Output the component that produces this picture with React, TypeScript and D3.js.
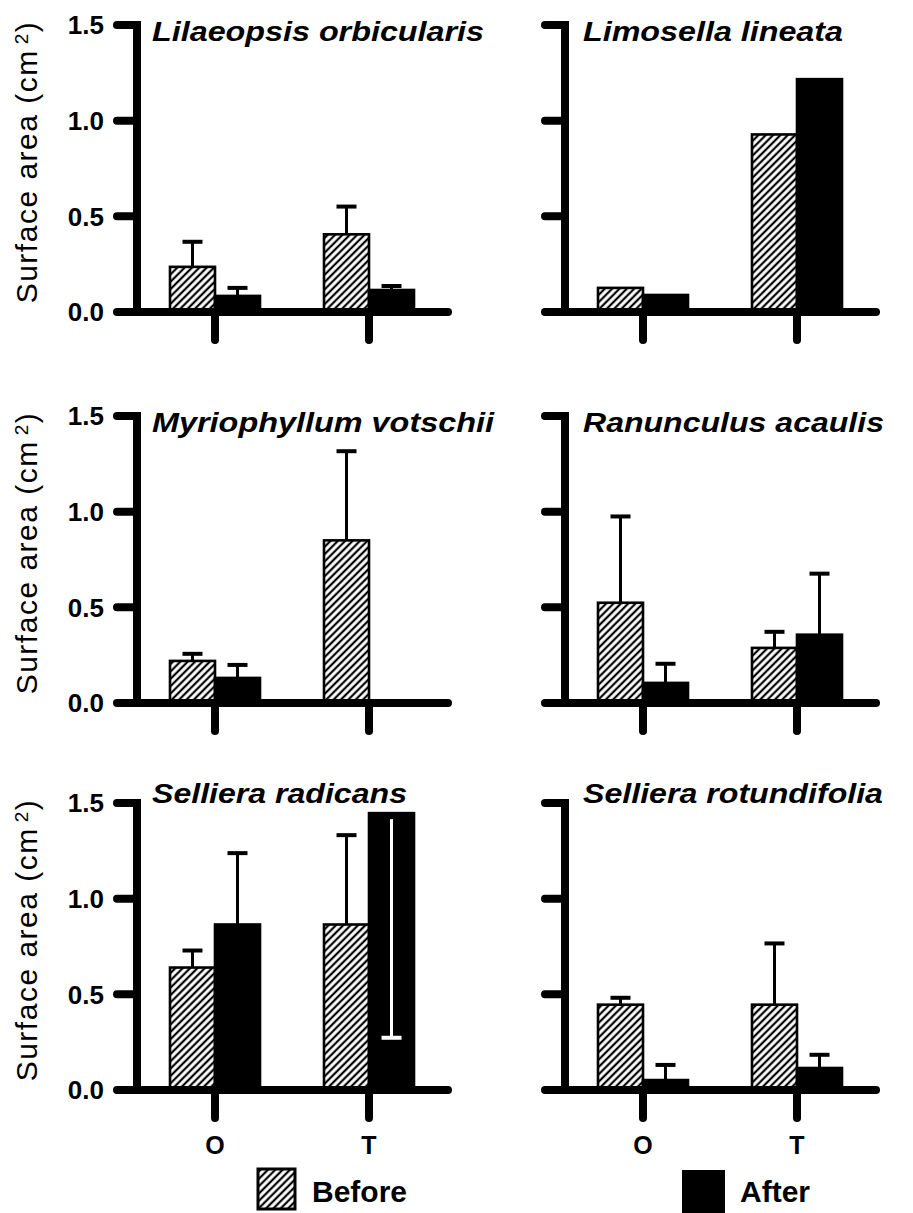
import React from "react";
import * as d3 from "d3";

// Leaf surface area (cm²) per species, before and after, at sites O and T
const species = [
  "Lilaeopsis orbicularis",
  "Limosella lineata",
  "Myriophyllum votschii",
  "Ranunculus acaulis",
  "Selliera radicans",
  "Selliera rotundifolia",
];
const sites = ["O", "T"];
const beforeMean = [
  [0.236, 0.406],
  [0.126, 0.928],
  [0.22, 0.85],
  [0.524, 0.288],
  [0.64, 0.865],
  [0.446, 0.446],
];
const beforeErr = [
  [0.131, 0.145],
  [0, 0],
  [0.037, 0.466],
  [0.451, 0.084],
  [0.089, 0.467],
  [0.036, 0.32],
];
const afterMean = [
  [0.084, 0.115],
  [0.089, 1.217],
  [0.131, 0],
  [0.105, 0.357],
  [0.865, 1.447],
  [0.052, 0.115],
];
const afterErr = [
  [0.042, 0.021],
  [0, 0],
  [0.068, 0],
  [0.1, 0.319],
  [0.373, 1.174],
  [0.079, 0.069],
];
const yTicks = [0, 0.5, 1.0, 1.5];
const titleWidths = [332, 260, 342, 301, 255, 300];

const W = 913;
const H = 1213;
const FONT = "'Liberation Sans', Arial, Helvetica, sans-serif";
const colX = [137, 565];
const rowY0 = [312, 703, 1090];
const PLOT_H = 287;
const AXIS_LEN = 311;
const BAR_W = 45;
const YMAX = 1.5;
const AXIS_W = 8;

function Panel({ idx }: { idx: number }) {
  const col = idx % 2;
  const row = Math.floor(idx / 2);
  const x0 = colX[col];
  const y0 = rowY0[row];
  const y = d3.scaleLinear().domain([0, YMAX]).range([y0, y0 - PLOT_H]);
  const x = d3
    .scalePoint<string>()
    .domain(sites)
    .range([x0 + 78, x0 + 232]);

  const bars: any[] = [];
  sites.forEach((s, i) => {
    const cx = x(s)!;
    bars.push({ kind: "before", x: cx - BAR_W, v: beforeMean[idx][i], e: beforeErr[idx][i] });
    bars.push({ kind: "after", x: cx, v: afterMean[idx][i], e: afterErr[idx][i] });
  });

  return (
    <g>
      {/* bars */}
      {bars.map((b, i) =>
        b.v > 0 ? (
          <rect
            key={"b" + i}
            x={b.x}
            y={y(b.v)}
            width={BAR_W}
            height={y0 - y(b.v)}
            fill={b.kind === "before" ? "url(#hatch)" : "#000"}
            stroke="#000"
            strokeWidth={2.6}
          />
        ) : null
      )}
      {/* error bars: upward whisker, or a white lower whisker when the upper one would leave the axis */}
      {bars.map((b, i) => {
        if (!(b.v > 0 && b.e > 0)) return null;
        const cx = b.x + BAR_W / 2;
        const up = b.v + b.e <= YMAX;
        const end = up ? b.v + b.e : b.v - b.e;
        const col = up ? "#000" : "#fff";
        const start = up ? y(b.v) : y(b.v) + 6;
        return (
          <g key={"e" + i}>
            <line x1={cx} x2={cx} y1={start} y2={y(end)} stroke={col} strokeWidth={3} />
            <line x1={cx - 10} x2={cx + 10} y1={y(end)} y2={y(end)} stroke={col} strokeWidth={4} />
          </g>
        );
      })}
      {/* y axis */}
      <line
        x1={x0}
        x2={x0}
        y1={y(YMAX) - AXIS_W / 2}
        y2={y0 + AXIS_W / 2}
        stroke="#000"
        strokeWidth={AXIS_W}
      />
      {yTicks.map((t) => (
        <line
          key={"t" + t}
          x1={x0 - 20}
          x2={x0}
          y1={y(t)}
          y2={y(t)}
          stroke="#000"
          strokeWidth={AXIS_W}
          strokeLinecap="round"
        />
      ))}
      {col === 0 &&
        yTicks.map((t) => (
          <text
            key={"l" + t}
            x={x0 - 33}
            y={y(t)}
            dy="0.36em"
            textAnchor="end"
            fontFamily={FONT}
            fontWeight="bold"
            fontSize={26}
          >
            {d3.format(".1f")(t)}
          </text>
        ))}
      {/* x axis */}
      <line
        x1={x0}
        x2={x0 + AXIS_LEN}
        y1={y0}
        y2={y0}
        stroke="#000"
        strokeWidth={AXIS_W}
        strokeLinecap="round"
      />
      {sites.map((s) => (
        <line
          key={"x" + s}
          x1={x(s)}
          x2={x(s)}
          y1={y0}
          y2={y0 + 28}
          stroke="#000"
          strokeWidth={AXIS_W}
          strokeLinecap="round"
        />
      ))}
      {row === 2 &&
        sites.map((s) => (
          <text
            key={"xl" + s}
            x={x(s)}
            y={y0 + 64}
            textAnchor="middle"
            fontFamily={FONT}
            fontWeight="bold"
            fontSize={25}
          >
            {s}
          </text>
        ))}
      {/* species title */}
      <text
        x={x0 + (col === 0 ? 15 : 18)}
        y={y0 - PLOT_H + (row === 2 ? 0 : 16)}
        fontFamily={FONT}
        fontWeight="bold"
        fontStyle="italic"
        fontSize={27}
        textLength={titleWidths[idx]}
        lengthAdjust="spacingAndGlyphs"
      >
        {species[idx]}
      </text>
      {col === 0 && (
        <text
          transform={`translate(37,${y0 - 150}) rotate(-90)`}
          textAnchor="middle"
          fontFamily={FONT}
          fontSize={30}
          letterSpacing={1.5}
        >
          Surface area (cm
          <tspan fontSize={19} dx={5} dy={-9}>
            2
          </tspan>
          <tspan dy={9}>)</tspan>
        </text>
      )}
    </g>
  );
}

export default function App() {
  return (
    <svg
      width={W}
      height={H}
      style={{ position: "absolute", left: 0, top: 0, background: "#fff" }}
    >
      <defs>
        <pattern
          id="hatch"
          patternUnits="userSpaceOnUse"
          width={5.2}
          height={5.2}
          patternTransform="rotate(45)"
        >
          <rect width={5.2} height={5.2} fill="#fff" />
          <line x1={2.6} y1={0} x2={2.6} y2={5.2} stroke="#000" strokeWidth={2.2} />
        </pattern>
      </defs>
      <rect width={W} height={H} fill="#fff" />
      {species.map((_, i) => (
        <Panel key={i} idx={i} />
      ))}
      {/* legend */}
      <rect x={258} y={1169} width={37} height={40} fill="url(#hatch)" stroke="#000" strokeWidth={3} />
      <text x={312} y={1202} fontFamily={FONT} fontWeight="bold" fontSize={30}>
        Before
      </text>
      <rect x={682} y={1170} width={43} height={43} fill="#000" />
      <text x={740} y={1202} fontFamily={FONT} fontWeight="bold" fontSize={30}>
        After
      </text>
    </svg>
  );
}
